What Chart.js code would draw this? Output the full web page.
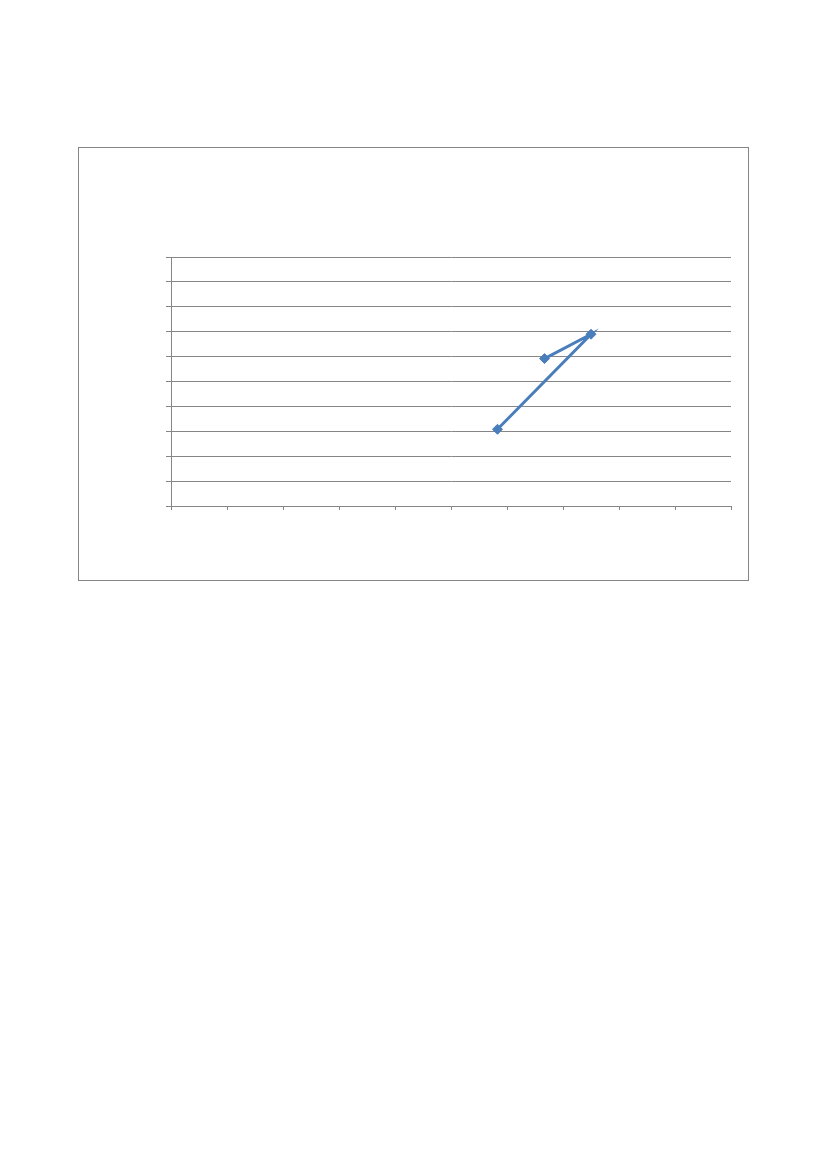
<!DOCTYPE html>
<html>
<head>
<meta charset="utf-8">
<script src="https://cdn.jsdelivr.net/npm/chart.js@4/dist/chart.umd.min.js"></script>
<style>
  html, body { margin: 0; padding: 0; background: #fff; }
  #frame {
    position: absolute; left: 78px; top: 147px;
    width: 669px; height: 432px;
    border: 1px solid #868686;
  }
  #chart { position: absolute; left: 0; top: 0; }
</style>
</head>
<body>
<div id="frame"></div>
<canvas id="chart" width="827" height="1169"></canvas>
<script>
'use strict';

// values (no labels shown on either axis)
var xValues = [5.83, 7.5, 6.67];
var yValues = [3.08, 6.9, 5.92];
var xTicks = [0, 1, 2, 3, 4, 5, 6, 7, 8, 9, 10];
var yTicks = [0, 1, 2, 3, 4, 5, 6, 7, 8, 9, 10];

var gridColor = '#868686';
var lineColor = '#4a7ebb';

var points = xValues.map(function(x, i) {
  return { x: x, y: yValues[i] };
});

var ctx = document.getElementById('chart').getContext('2d');

var chart = new Chart(ctx, {
  type: 'scatter',
  data: {
    datasets: [{
      data: points,
      showLine: true,
      borderColor: lineColor,
      borderWidth: 3,
      backgroundColor: lineColor,
      pointStyle: 'rectRot',
      pointRadius: 5,
      pointBorderWidth: 1
    }]
  },
  options: {
    responsive: false,
    maintainAspectRatio: false,
    animation: false,
    layout: { padding: { left: 166, top: 257, right: 96, bottom: 659 } },
    plugins: { legend: { display: false }, tooltip: { enabled: false } },
    scales: {
      x: {
        type: 'linear',
        min: xTicks[0],
        max: xTicks[xTicks.length - 1],
        afterBuildTicks: function(s) { s.ticks = xTicks.map(function(v) { return { value: v }; }); },
        afterFit: function(s) { s.height = 4; },
        ticks: { display: false },
        grid: { drawOnChartArea: false, drawTicks: true, tickLength: 4, color: gridColor, lineWidth: 1 },
        border: { display: true, color: gridColor, width: 1 }
      },
      y: {
        type: 'linear',
        min: yTicks[0],
        max: yTicks[yTicks.length - 1],
        afterBuildTicks: function(s) { s.ticks = yTicks.map(function(v) { return { value: v }; }); },
        afterFit: function(s) { s.width = 5; },
        ticks: { display: false },
        grid: { drawOnChartArea: true, drawTicks: true, tickLength: 5, color: gridColor, lineWidth: 1 },
        border: { display: true, color: gridColor, width: 1 }
      }
    }
  }
});
</script>
</body>
</html>
